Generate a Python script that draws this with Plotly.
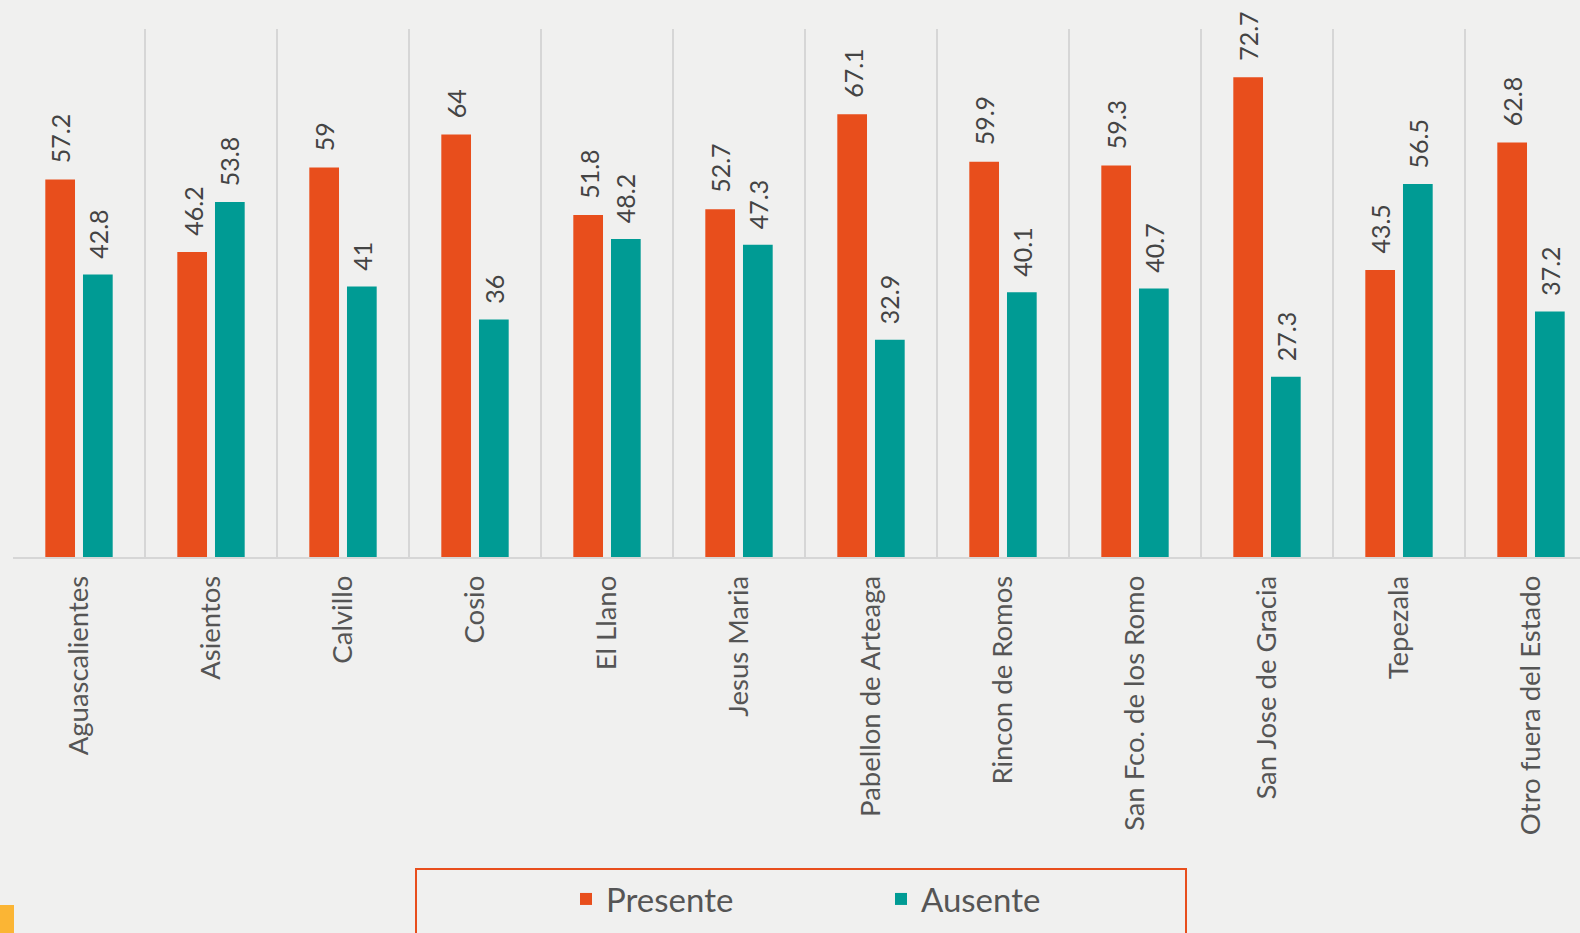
import plotly.graph_objects as go

categories = ["Aguascalientes", "Asientos", "Calvillo", "Cosio", "El Llano", "Jesus Maria",
              "Pabellon de Arteaga", "Rincon de Romos", "San Fco. de los Romo",
              "San Jose de Gracia", "Tepezala", "Otro fuera del Estado"]
presente = [57.2, 46.2, 59, 64, 51.8, 52.7, 67.1, 59.9, 59.3, 72.7, 43.5, 62.8]
ausente = [42.8, 53.8, 41, 36, 48.2, 47.3, 32.9, 40.1, 40.7, 27.3, 56.5, 37.2]

C_PRES = "#E84E1C"
C_AUS = "#009B94"
BG = "#F0F0EF"
FONT = "Lato"
W, H = 1580, 933
ML, MT, MB = 13, 29, 376
plot_w = W - ML
plot_h = H - MT - MB
cat_px = 132.0

def px_x(X):
    return (X - ML) / plot_w

def px_y(Y):
    return (H - MB - Y) / plot_h

fig = go.Figure()
fig.add_trace(go.Bar(name="Presente", x=categories, y=presente, marker_color=C_PRES,
                     marker_line_width=0))
fig.add_trace(go.Bar(name="Ausente", x=categories, y=ausente, marker_color=C_AUS,
                     marker_line_width=0))

bargap = 0.429
slot = (1 - bargap) / 2
annotations = []
for i in range(len(categories)):
    for v, off in ((presente[i], -slot / 2), (ausente[i], slot / 2)):
        annotations.append(dict(x=i + off, y=v, xref="x", yref="y", text=f"{v:g}",
                                textangle=-90, showarrow=False, yanchor="bottom",
                                xanchor="center", yshift=14,
                                font=dict(family=FONT, size=25, color="#444444")))

x_end = (W - ML) / cat_px - 0.5

fig.update_layout(
    width=W, height=H,
    margin=dict(l=ML, r=0, t=MT, b=MB, pad=0),
    paper_bgcolor=BG, plot_bgcolor=BG,
    barmode="group", bargap=bargap, bargroupgap=0.212,
    showlegend=True,
    legend=dict(orientation="h", x=px_x(566), xanchor="left", y=px_y(899), yanchor="middle",
                font=dict(family=FONT, size=33, color="#555555"),
                bgcolor="rgba(0,0,0,0)", entrywidth=270, entrywidthmode="pixels",
                traceorder="normal"),
    xaxis=dict(type="category", range=[-0.5, x_end], showgrid=True, gridcolor="#D6D6D6",
               gridwidth=1.5, tickson="boundaries", ticks="", tickangle=-90,
               showline=True, linecolor="#D6D6D6", linewidth=1.5,
               tickfont=dict(family=FONT, size=27.5, color="#555555"), ticklabelstandoff=6),
    yaxis=dict(range=[0, 80], showgrid=False, showticklabels=False, zeroline=False,
               showline=False, ticks=""),
    annotations=annotations,
    shapes=[
        dict(type="rect", xref="paper", yref="paper", x0=px_x(416), x1=px_x(1186),
             y0=px_y(869), y1=px_y(960), line=dict(color=C_PRES, width=2),
             fillcolor="rgba(0,0,0,0)", layer="below"),
        dict(type="rect", xref="paper", yref="paper", x0=px_x(0), x1=px_x(14),
             y0=px_y(905), y1=px_y(940), line=dict(width=0), fillcolor="#FBB534"),
    ],
    font=dict(family=FONT),
)

fig.write_html("out.html", config={"displayModeBar": False},
               post_script="document.body.style.margin='0';")
